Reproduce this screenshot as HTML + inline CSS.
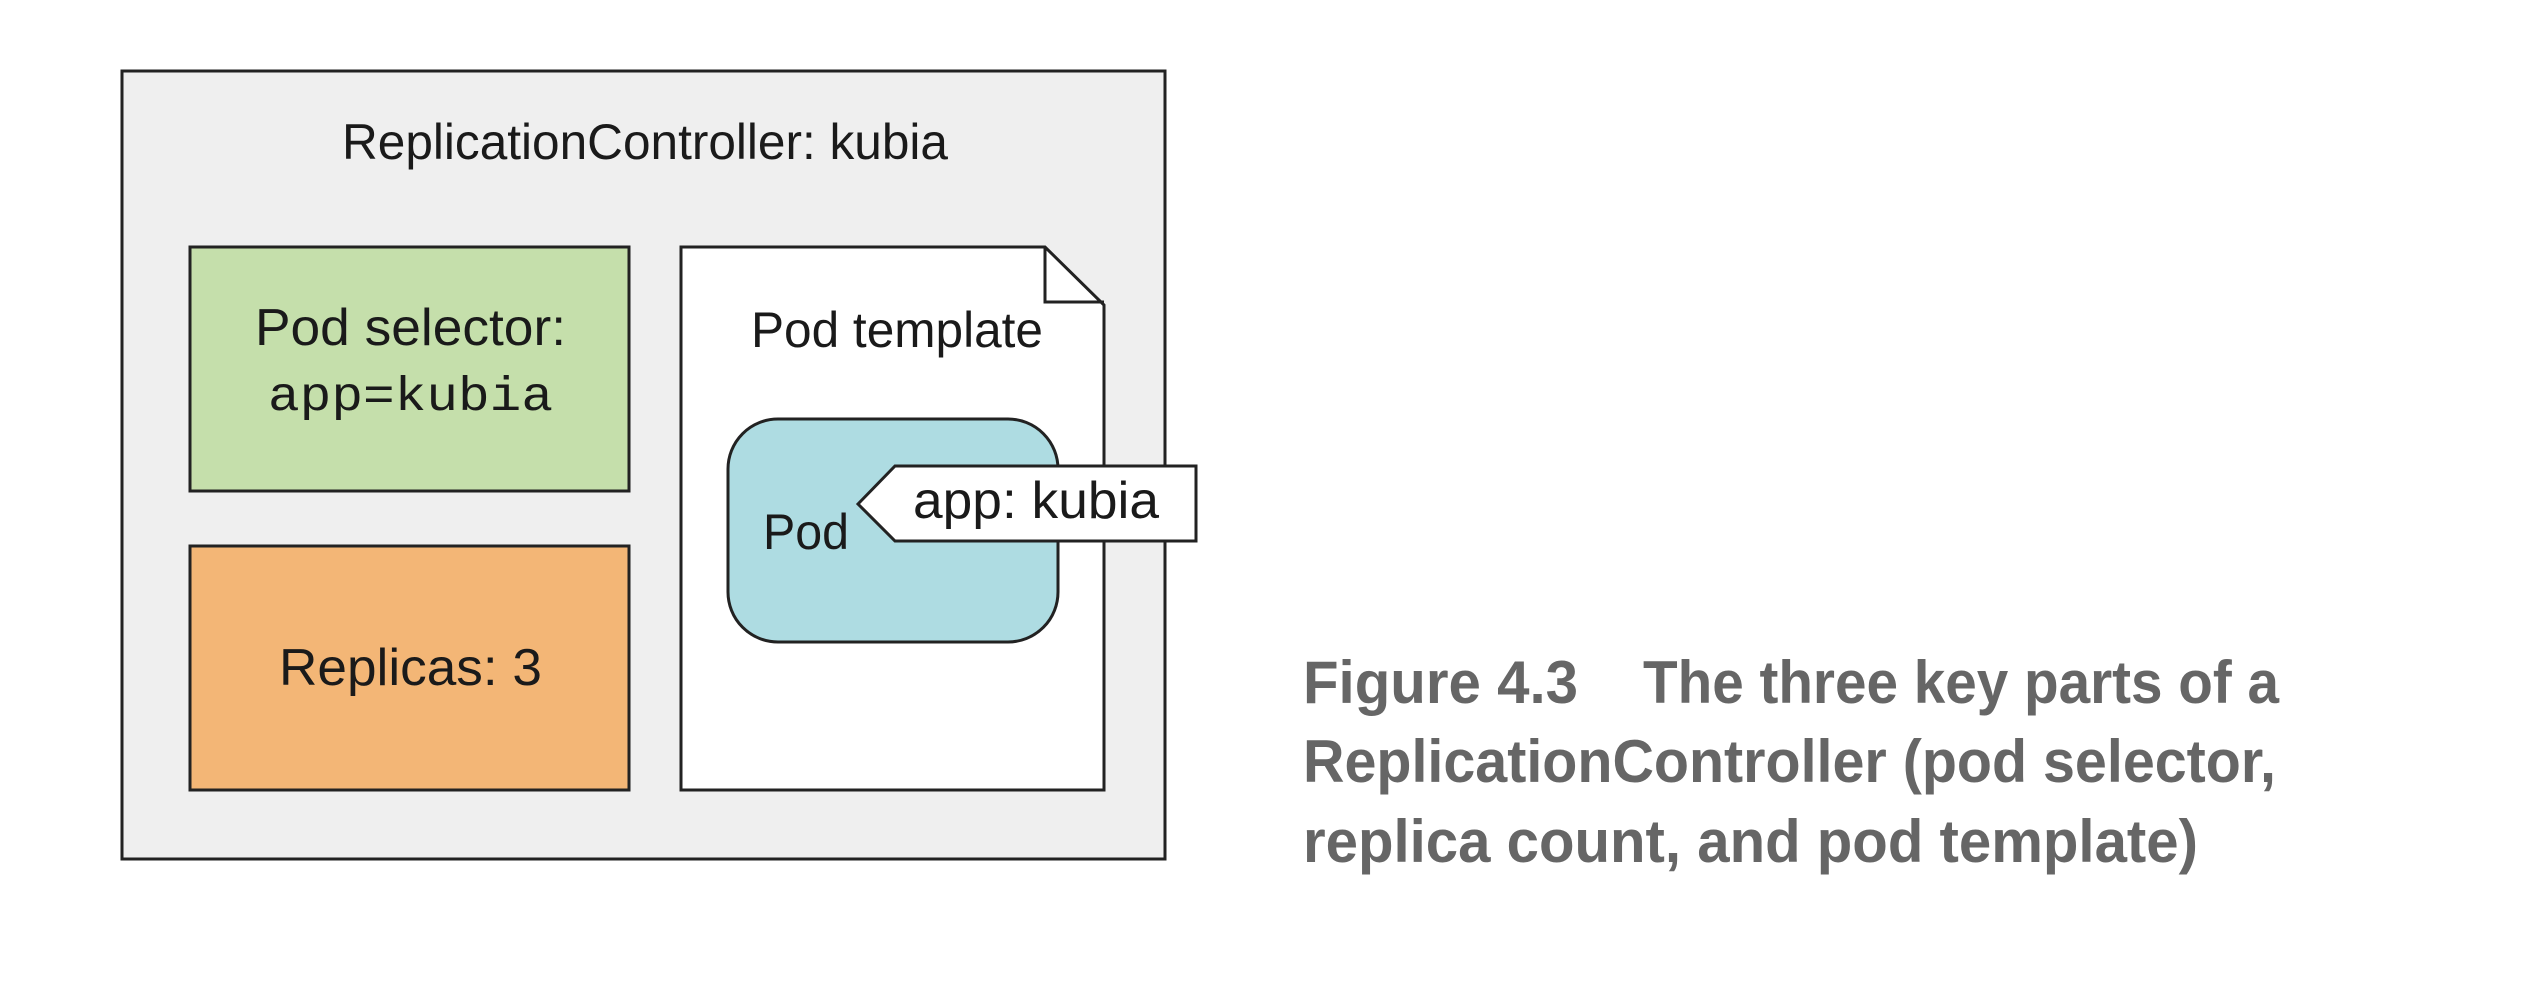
<!DOCTYPE html>
<html><head><meta charset="utf-8"><style>
html,body{margin:0;padding:0;background:#fff;}
svg{display:block;}
</style></head><body>
<svg width="2533" height="1000" viewBox="0 0 2533 1000" xmlns="http://www.w3.org/2000/svg">
<rect x="0" y="0" width="2533" height="1000" fill="#fff"/>
<rect x="122" y="71" width="1043" height="788" fill="#efefef" stroke="#222" stroke-width="3"/>
<g font-family="Liberation Sans, Arial, sans-serif" fill="#1a1a1a">
<text x="342" y="159" font-size="50" textLength="606" lengthAdjust="spacingAndGlyphs">ReplicationController: kubia</text>
</g>
<rect x="190" y="247" width="439" height="244" fill="#c5dfab" stroke="#222" stroke-width="3"/>
<rect x="190" y="546" width="439" height="244" fill="#f3b676" stroke="#222" stroke-width="3"/>
<path d="M681 247 L1045 247 L1104 305 L1104 790 L681 790 Z" fill="#fff" stroke="#222" stroke-width="3"/>
<path d="M1045 247 L1045 302 L1104 302" fill="none" stroke="#222" stroke-width="3"/>
<rect x="728" y="419" width="330" height="223" rx="50" ry="50" fill="#aedce2" stroke="#222" stroke-width="3"/>
<path d="M858 504 L895 466 L1196 466 L1196 541 L895 541 Z" fill="#fff" stroke="#222" stroke-width="3"/>
<g font-family="Liberation Sans, Arial, sans-serif" fill="#1a1a1a" font-size="52">
<text x="255" y="345" textLength="311" lengthAdjust="spacingAndGlyphs">Pod selector:</text>
<text x="279" y="685" textLength="263" lengthAdjust="spacingAndGlyphs">Replicas: 3</text>
<text x="751" y="347" font-size="50" textLength="292" lengthAdjust="spacingAndGlyphs">Pod template</text>
<text x="763" y="549" font-size="50" textLength="86" lengthAdjust="spacingAndGlyphs">Pod</text>
<text x="913" y="518" textLength="246" lengthAdjust="spacingAndGlyphs">app: kubia</text>
</g>
<text x="268" y="410" font-family="Liberation Mono, Courier New, monospace" font-size="48" fill="#1a1a1a" textLength="285" lengthAdjust="spacingAndGlyphs">app=kubia</text>
<g font-family="Liberation Sans Narrow, Liberation Sans, Arial, sans-serif" font-weight="bold" fill="#666" font-size="60">
<text x="1303" y="703" textLength="275" lengthAdjust="spacingAndGlyphs">Figure 4.3</text>
<text x="1643" y="703" textLength="636" lengthAdjust="spacingAndGlyphs">The three key parts of a</text>
<text x="1303" y="782" textLength="973" lengthAdjust="spacingAndGlyphs">ReplicationController (pod selector,</text>
<text x="1303" y="862" textLength="895" lengthAdjust="spacingAndGlyphs">replica count, and pod template)</text>
</g>
</svg>
</body></html>
